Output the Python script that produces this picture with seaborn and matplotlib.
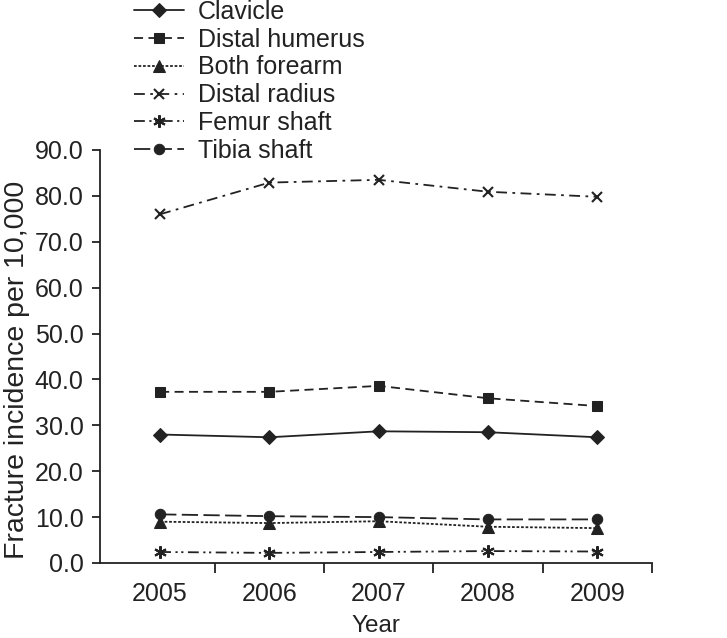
import matplotlib
matplotlib.use("Agg")
import matplotlib.pyplot as plt
import seaborn as sns
import pandas as pd
from matplotlib.ticker import FixedLocator, FormatStrFormatter

years = [2005, 2006, 2007, 2008, 2009]
series_names = ["Clavicle", "Distal humerus", "Both forearm", "Distal radius", "Femur shaft", "Tibia shaft"]
clavicle = [28.0, 27.4, 28.7, 28.5, 27.4]
distal_humerus = [37.3, 37.3, 38.6, 35.9, 34.2]
both_forearm = [9.0, 8.7, 9.1, 7.9, 7.6]
distal_radius = [76.0, 82.9, 83.5, 80.9, 79.8]
femur_shaft = [2.4, 2.2, 2.4, 2.6, 2.5]
tibia_shaft = [10.6, 10.2, 10.0, 9.5, 9.5]
values = [clavicle, distal_humerus, both_forearm, distal_radius, femur_shaft, tibia_shaft]

sns.set_style("ticks")
plt.rcParams["font.family"] = ["Liberation Sans", "DejaVu Sans"]

ink = "#222222"
styles = [
    dict(marker="D", linestyle="-", markersize=7),
    dict(marker="s", linestyle=(0, (5, 3)), markersize=7),
    dict(marker="^", linestyle=(0, (1.5, 1)), markersize=8),
    dict(marker="x", linestyle=(0, (6, 3, 1.5, 3)), markersize=7.5, markeredgewidth=1.5),
    dict(marker=(6, 2, 0), linestyle=(0, (6, 2.5, 1.2, 2, 1.2, 2.5)), markersize=9, markeredgewidth=1.5),
    dict(marker="o", linestyle=(0, (9, 3)), markersize=7.5),
]

fig = plt.figure(figsize=(7.27, 6.38), dpi=100)
ax = fig.add_axes([100 / 727, (638 - 563) / 638, (652 - 100) / 727, (563 - 150) / 638])

for name, vals, st in zip(series_names, values, styles):
    df = pd.DataFrame({"Year": years, "v": vals})
    sns.lineplot(data=df, x="Year", y="v", ax=ax, color=ink, linewidth=1.3,
                 markeredgecolor=ink, markerfacecolor=ink, label=name, **st)

ax.set_xlim(2004.45, 2009.5)
ax.set_ylim(0, 90)
ax.set_xticks(years)
ax.set_xticklabels([str(y) for y in years])
ax.tick_params(axis="x", length=0, pad=14, labelsize=18, colors=ink)
ax.xaxis.set_minor_locator(FixedLocator([2005.5, 2006.5, 2007.5, 2008.5, 2009.5]))
ax.tick_params(axis="x", which="minor", length=7.2, width=1.3, color=ink, direction="out")
ax.set_yticks([0, 10, 20, 30, 40, 50, 60, 70, 80, 90])
ax.yaxis.set_major_formatter(FormatStrFormatter("%.1f"))
ax.tick_params(axis="y", length=5.8, width=1.3, labelsize=18, colors=ink, pad=6)
for s in ["top", "right"]:
    ax.spines[s].set_visible(False)
for s in ["left", "bottom"]:
    ax.spines[s].set_linewidth(1.3)
    ax.spines[s].set_color(ink)

ax.set_xlabel("Year", fontsize=17.5, color=ink, labelpad=6)
ax.set_ylabel("Fracture incidence per 10,000", fontsize=20.5, color=ink)
ax.yaxis.set_label_coords(-0.126, 0.467)

leg = ax.legend(loc="upper left", bbox_to_anchor=(134 / 727, 1.0), bbox_transform=fig.transFigure,
                frameon=False, fontsize=18, handlelength=2.0, handletextpad=0.56,
                labelspacing=0.15, borderaxespad=0, borderpad=0)
for t in leg.get_texts():
    t.set_color(ink)

fig.savefig("out.png", dpi=100)
